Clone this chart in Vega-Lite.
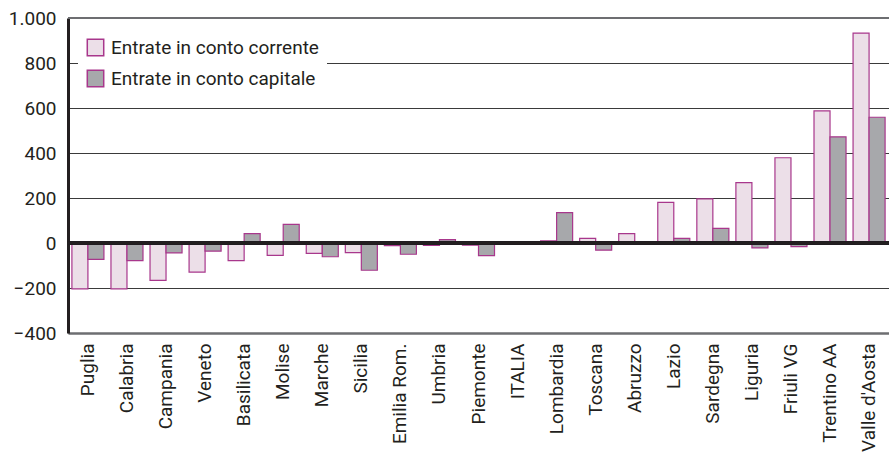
{
  "$schema": "https://vega.github.io/schema/vega-lite/v6.json",
  "width": 821,
  "height": 315,
  "autosize": {"type": "none"},
  "padding": {"left": 68, "top": 18, "right": 0, "bottom": 121},
  "background": "white",
  "config": {
    "font": "Roboto, sans-serif",
    "view": {"stroke": null},
    "axis": {"labelFont": "Roboto, sans-serif", "labelColor": "#231f20", "labelFontSize": 19},
    "legend": {"labelFont": "Roboto, sans-serif"}
  },
  "data": {
    "values": [
      {"region": "Puglia", "series": "Entrate in conto corrente", "value": -204},
      {"region": "Puglia", "series": "Entrate in conto capitale", "value": -73},
      {"region": "Calabria", "series": "Entrate in conto corrente", "value": -204},
      {"region": "Calabria", "series": "Entrate in conto capitale", "value": -78},
      {"region": "Campania", "series": "Entrate in conto corrente", "value": -166},
      {"region": "Campania", "series": "Entrate in conto capitale", "value": -44},
      {"region": "Veneto", "series": "Entrate in conto corrente", "value": -129},
      {"region": "Veneto", "series": "Entrate in conto capitale", "value": -36},
      {"region": "Basilicata", "series": "Entrate in conto corrente", "value": -78},
      {"region": "Basilicata", "series": "Entrate in conto capitale", "value": 42},
      {"region": "Molise", "series": "Entrate in conto corrente", "value": -55},
      {"region": "Molise", "series": "Entrate in conto capitale", "value": 83},
      {"region": "Marche", "series": "Entrate in conto corrente", "value": -46},
      {"region": "Marche", "series": "Entrate in conto capitale", "value": -61},
      {"region": "Sicilia", "series": "Entrate in conto corrente", "value": -43},
      {"region": "Sicilia", "series": "Entrate in conto capitale", "value": -121},
      {"region": "Emilia Rom.", "series": "Entrate in conto corrente", "value": -12},
      {"region": "Emilia Rom.", "series": "Entrate in conto capitale", "value": -50},
      {"region": "Umbria", "series": "Entrate in conto corrente", "value": -11},
      {"region": "Umbria", "series": "Entrate in conto capitale", "value": 15},
      {"region": "Piemonte", "series": "Entrate in conto corrente", "value": -10},
      {"region": "Piemonte", "series": "Entrate in conto capitale", "value": -56},
      {"region": "ITALIA", "series": "Entrate in conto corrente", "value": 0},
      {"region": "ITALIA", "series": "Entrate in conto capitale", "value": 0},
      {"region": "Lombardia", "series": "Entrate in conto corrente", "value": 10},
      {"region": "Lombardia", "series": "Entrate in conto capitale", "value": 135},
      {"region": "Toscana", "series": "Entrate in conto corrente", "value": 21},
      {"region": "Toscana", "series": "Entrate in conto capitale", "value": -32},
      {"region": "Abruzzo", "series": "Entrate in conto corrente", "value": 42},
      {"region": "Abruzzo", "series": "Entrate in conto capitale", "value": 0},
      {"region": "Lazio", "series": "Entrate in conto corrente", "value": 181},
      {"region": "Lazio", "series": "Entrate in conto capitale", "value": 21},
      {"region": "Sardegna", "series": "Entrate in conto corrente", "value": 196},
      {"region": "Sardegna", "series": "Entrate in conto capitale", "value": 65},
      {"region": "Liguria", "series": "Entrate in conto corrente", "value": 268},
      {"region": "Liguria", "series": "Entrate in conto capitale", "value": -22},
      {"region": "Friuli VG", "series": "Entrate in conto corrente", "value": 379},
      {"region": "Friuli VG", "series": "Entrate in conto capitale", "value": -16},
      {"region": "Trentino AA", "series": "Entrate in conto corrente", "value": 587},
      {"region": "Trentino AA", "series": "Entrate in conto capitale", "value": 472},
      {"region": "Valle d'Aosta", "series": "Entrate in conto corrente", "value": 933},
      {"region": "Valle d'Aosta", "series": "Entrate in conto capitale", "value": 559}
    ]
  },
  "layer": [
    {
      "mark": {"type": "rule", "color": "#6d6e71", "strokeWidth": 2},
      "encoding": {"y": {"datum": 1000, "type": "quantitative"}}
    },
    {
      "mark": {"type": "bar", "stroke": "#a8378c", "strokeWidth": 1.2, "opacity": 1},
      "encoding": {
        "x": {
          "field": "region", "type": "nominal", "sort": null,
          "scale": {"paddingInner": 0.18, "paddingOuter": 0.1},
          "axis": {"title": null, "labelAngle": -90, "ticks": false, "labelPadding": 10, "domainColor": "#6d6e71", "domainWidth": 2.5, "labelBaseline": "middle", "labelLimit": 0}
        },
        "xOffset": {"field": "series", "type": "nominal", "sort": ["Entrate in conto corrente", "Entrate in conto capitale"]},
        "y": {
          "field": "value", "type": "quantitative",
          "scale": {"domain": [-400, 1000], "nice": false, "zero": false},
          "axis": {
            "title": null, "values": [-400, -200, 0, 200, 400, 600, 800, 1000],
            "labelExpr": "datum.value == 1000 ? '1.000' : datum.label",
            "ticks": false, "labelPadding": 12,
            "domainColor": "#231f20", "domainWidth": 3,
            "grid": true, "gridColor": "#3a3a3a", "gridWidth": 1.2,
            "zindex": 0
          }
        },
        "fill": {
          "field": "series", "type": "nominal",
          "scale": {"domain": ["Entrate in conto corrente", "Entrate in conto capitale"], "range": ["#ecdfe8", "#a7a8ab"]},
          "legend": {
            "title": null, "orient": "none", "legendX": 10, "legendY": 12,
            "fillColor": "white", "padding": 8,
            "symbolType": "square", "symbolSize": 270, "symbolStrokeColor": "#a8378c", "symbolStrokeWidth": 1.5,
            "labelFontSize": 19, "labelColor": "#231f20", "rowPadding": 8, "labelOffset": 6, "labelLimit": 0
          }
        }
      }
    },
    {
      "mark": {"type": "rule", "color": "#231f20", "strokeWidth": 2.5},
      "encoding": {"y": {"datum": 0, "type": "quantitative"}}
    }
  ]
}
